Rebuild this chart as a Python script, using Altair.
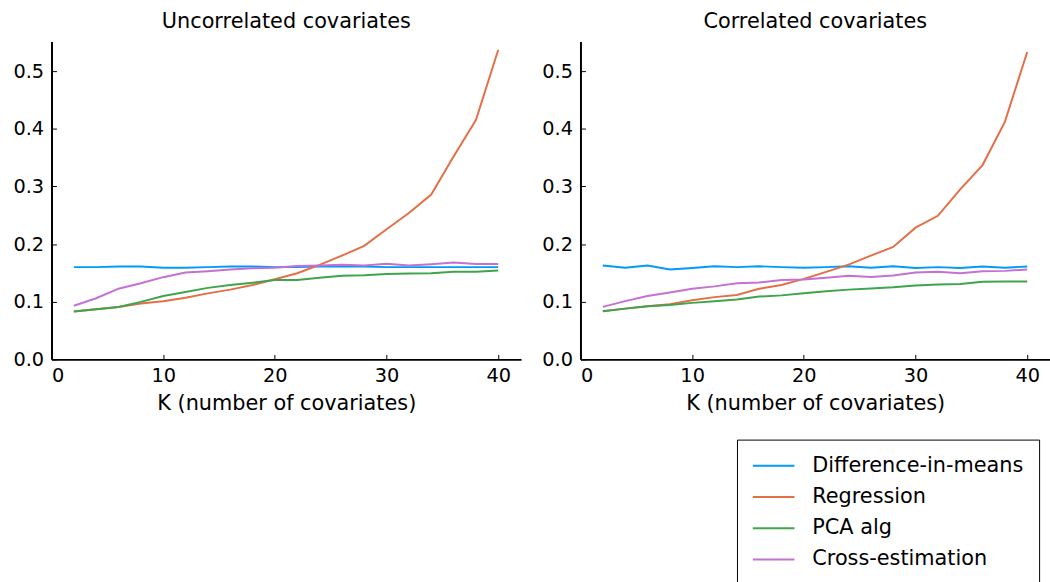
import altair as alt
import pandas as pd

K = list(range(2, 41, 2))
SERIES = ["Difference-in-means", "Regression", "PCA alg", "Cross-estimation"]
COLORS = ["#009AFA", "#E36F47", "#3EA44E", "#C371D2"]

# Uncorrelated covariates
unc_dim = [0.160, 0.160, 0.161, 0.161, 0.159, 0.159, 0.160, 0.161, 0.161, 0.160,
           0.160, 0.161, 0.161, 0.161, 0.160, 0.160, 0.160, 0.160, 0.160, 0.160]
unc_reg = [0.083, 0.087, 0.091, 0.097, 0.101, 0.107, 0.1145, 0.121, 0.129, 0.139,
           0.1495, 0.164, 0.180, 0.197, 0.2257, 0.254, 0.286, 0.352, 0.415, 0.537]
unc_pca = [0.083, 0.087, 0.091, 0.0997, 0.110, 0.117, 0.124, 0.129, 0.133, 0.1375,
           0.1375, 0.1415, 0.145, 0.146, 0.148, 0.149, 0.1495, 0.152, 0.152, 0.154]
unc_cross = [0.093, 0.106, 0.1226, 0.132, 0.1426, 0.1506, 0.153, 0.156, 0.158, 0.159,
             0.162, 0.1627, 0.164, 0.1627, 0.166, 0.1627, 0.165, 0.168, 0.1655, 0.1655]

# Correlated covariates
cor_dim = [0.1627, 0.159, 0.1627, 0.156, 0.1586, 0.1615, 0.160, 0.1615, 0.160, 0.159,
           0.160, 0.1615, 0.159, 0.1615, 0.1586, 0.160, 0.1586, 0.161, 0.159, 0.161]
cor_reg = [0.0836, 0.088, 0.092, 0.0956, 0.1025, 0.108, 0.1117, 0.1226, 0.129, 0.1397,
           0.1518, 0.1644, 0.180, 0.195, 0.2285, 0.249, 0.295, 0.337, 0.412, 0.533]
cor_pca = [0.0836, 0.088, 0.092, 0.0945, 0.098, 0.101, 0.104, 0.109, 0.111, 0.1145,
           0.118, 0.121, 0.123, 0.125, 0.128, 0.130, 0.1306, 0.1346, 0.135, 0.135]
cor_cross = [0.091, 0.101, 0.110, 0.116, 0.1226, 0.1266, 0.132, 0.1334, 0.1375, 0.1386,
             0.1415, 0.145, 0.143, 0.1455, 0.1506, 0.1518, 0.1495, 0.153, 0.1535, 0.1558]

X_TICKS = [0, 10, 20, 30, 40]
Y_TICKS = [0.0, 0.1, 0.2, 0.3, 0.4, 0.5]

W, H = 474, 321
FONT = "DejaVu Sans"
TICK_FS = 19.5
TEXT_FS = 21


def frame(values_by_series):
    rows = []
    for name, vals in zip(SERIES, values_by_series):
        for k, v in zip(K, vals):
            rows.append({"K": k, "value": v, "series": name})
    return pd.DataFrame(rows)


xscale = alt.Scale(domain=[0, 42.04], nice=False, zero=False)
yscale = alt.Scale(domain=[0, 0.5515], nice=False, zero=False)

legend = alt.Legend(
    title=None, orient="none", legendX=692, legendY=402,
    symbolType="M-1,0H3", symbolSize=441, symbolStrokeWidth=2,
    symbolFillColor="transparent",
    labelFontSize=TEXT_FS, labelFont=FONT, labelColor="black", labelLimit=0,
    labelOffset=38, rowPadding=9.5, padding=15,
    strokeColor="black", fillColor="white",
)
color = alt.Color("series:N", scale=alt.Scale(domain=SERIES, range=COLORS),
                  legend=legend, sort=SERIES)


def panel(df, title):
    base = alt.Chart(df)
    lines = base.mark_line(strokeWidth=2).encode(
        x=alt.X("K:Q", scale=xscale,
                axis=alt.Axis(values=X_TICKS, ticks=False, grid=False,
                              domainColor="black", domainWidth=2,
                              labelFontSize=TICK_FS, labelFont=FONT, labelColor="black",
                              labelPadding=7, title="K (number of covariates)",
                              titleFontSize=TEXT_FS, titleFont=FONT, titleColor="black",
                              titleFontWeight="normal", titlePadding=8)),
        y=alt.Y("value:Q", scale=yscale,
                axis=alt.Axis(values=Y_TICKS, format=".1f", ticks=False, grid=False,
                              domainColor="black", domainWidth=2,
                              labelFontSize=TICK_FS, labelFont=FONT, labelColor="black",
                              labelPadding=8, title=None)),
        color=color,
    )
    inner = base.mark_line(opacity=0).encode(
        x=alt.X("K:Q", scale=xscale,
                axis=alt.Axis(orient="top", offset=-H, values=X_TICKS, labels=False,
                              domain=False, grid=False, ticks=True, tickSize=5,
                              tickColor="black", tickWidth=1, title=None)),
        y=alt.Y("value:Q", scale=yscale,
                axis=alt.Axis(orient="right", offset=-W, values=Y_TICKS, labels=False,
                              domain=False, grid=False, ticks=True, tickSize=5,
                              tickColor="black", tickWidth=1, title=None)),
        detail="series:N",
    )
    return alt.layer(lines, inner).resolve_axis(x="independent", y="independent").properties(
        width=W, height=H,
        title=alt.TitleParams(title, fontSize=TEXT_FS, font=FONT, fontWeight="normal",
                              color="black", offset=10),
    )


left = panel(frame([unc_dim, unc_reg, unc_pca, unc_cross]), "Uncorrelated covariates")
right = panel(frame([cor_dim, cor_reg, cor_pca, cor_cross]), "Correlated covariates")

chart = alt.hconcat(left, right, spacing=20).properties(
    padding={"left": 12, "top": 8, "right": 0, "bottom": 0},
).configure_view(stroke=None)

chart.save("out.html", embed_options={"renderer": "svg", "actions": False})
